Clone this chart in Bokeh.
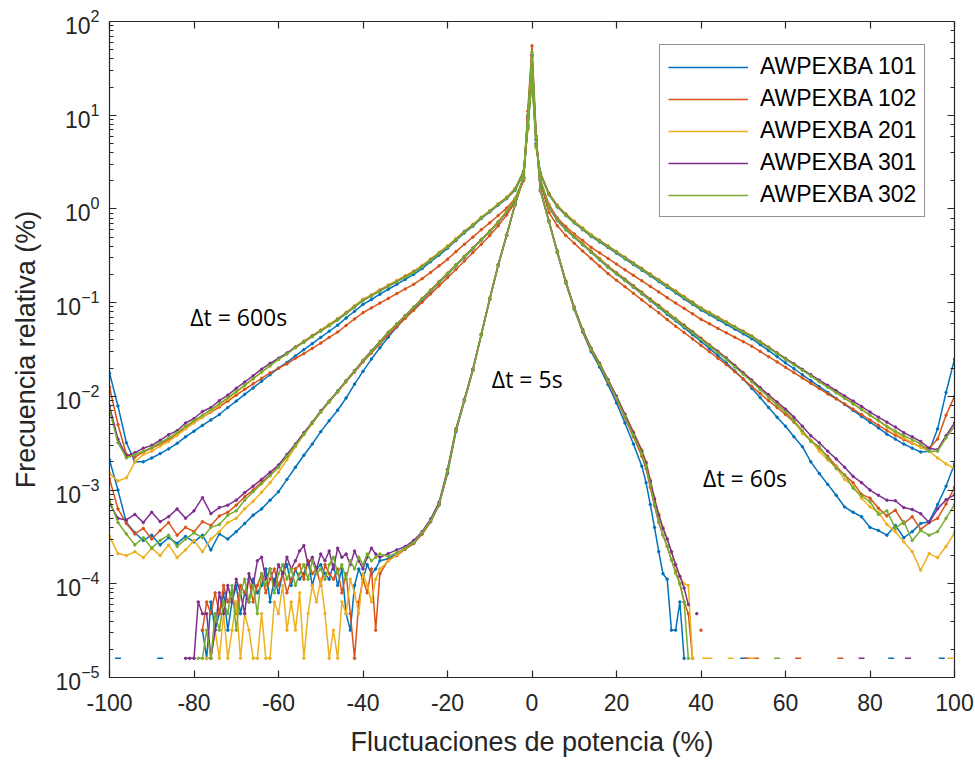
from bokeh.plotting import figure
from bokeh.models import (Range1d, LinearAxis, LogAxis, FixedTicker, Legend, LegendItem,
                          Label, CustomJSTickFormatter)
from bokeh.embed import file_html
from bokeh.resources import INLINE

nan = float("nan")

SERIES = ["AWPEXBA 101", "AWPEXBA 102", "AWPEXBA 201", "AWPEXBA 301", "AWPEXBA 302"]
COLORS = ["#0072BD", "#D95319", "#EDB120", "#7E2F8E", "#77AC30"]
XTICKS = [-100, -80, -60, -40, -20, 0, 20, 40, 60, 80, 100]

# bin centres (%)
X_WIDE = list(range(-100, -1, 2)) + [-1, 0, 1] + list(range(2, 101, 2))
X_5S = (list(range(-82, -35)) + list(range(-34, -1, 2)) + [-1, 0, 1]
        + list(range(2, 27, 2)) + list(range(27, 41)))

# ---------------- dt = 600 s ----------------
P600_101 = [1.78e-2, 7.9e-3, 3.2e-3, 2.0e-3, 2.0e-3, 2.2e-3, 2.45e-3, 2.75e-3, 3.15e-3, 3.7e-3,
            4.25e-3, 4.9e-3, 5.6e-3, 6.4e-3, 7.6e-3, 8.9e-3, 1.05e-2, 1.23e-2, 1.45e-2, 1.7e-2,
            2.0e-2, 2.3e-2, 2.7e-2, 3.15e-2, 3.65e-2, 4.25e-2, 4.95e-2, 5.75e-2, 6.85e-2, 8.1e-2,
            9.6e-2, 0.108, 0.123, 0.139, 0.157, 0.177, 0.2, 0.231, 0.273, 0.322,
            0.38, 0.46, 0.555, 0.655, 0.79, 0.93, 1.1, 1.29, 1.58, 2.4,
            7.2, 25, 4.6,
            2.35, 1.42, 1.05, 0.85, 0.71, 0.6, 0.51, 0.445, 0.387, 0.337,
            0.293, 0.255, 0.222, 0.193, 0.168, 0.146, 0.127, 0.11, 0.096, 0.0835,
            0.0745, 0.066, 0.0588, 0.0522, 0.0465, 0.0412, 0.0357, 0.0308, 0.0266, 0.0228,
            0.0197, 0.017, 0.0147, 0.0127, 0.011, 9.5e-3, 8.2e-3, 7.1e-3, 6.1e-3, 5.3e-3,
            4.6e-3, 3.95e-3, 3.5e-3, 3.1e-3, 2.8e-3, 2.55e-3, 2.6e-3, 4.5e-3, 1.1e-2, 2.5e-2]
P600_102 = [1.26e-2, 5.0e-3, 2.4e-3, 2.25e-3, 2.55e-3, 2.8e-3, 3.1e-3, 3.45e-3, 3.95e-3, 4.6e-3,
            5.3e-3, 6.0e-3, 6.8e-3, 7.7e-3, 8.9e-3, 1.03e-2, 1.19e-2, 1.36e-2, 1.56e-2, 1.78e-2,
            2.0e-2, 2.22e-2, 2.55e-2, 2.85e-2, 3.25e-2, 3.7e-2, 4.25e-2, 4.85e-2, 5.7e-2, 6.7e-2,
            7.8e-2, 8.8e-2, 9.9e-2, 0.111, 0.125, 0.14, 0.157, 0.18, 0.21, 0.247,
            0.29, 0.35, 0.42, 0.5, 0.6, 0.71, 0.85, 1.02, 1.3, 2.1,
            8.5, 30, 5.5,
            2.0, 1.12, 0.8, 0.65, 0.54, 0.46, 0.39, 0.34, 0.296, 0.258,
            0.224, 0.196, 0.171, 0.149, 0.13, 0.113, 0.099, 0.087, 0.076, 0.0665,
            0.0595, 0.0532, 0.0476, 0.0427, 0.0383, 0.0343, 0.0302, 0.0265, 0.0233, 0.0204,
            0.0179, 0.0157, 0.0138, 0.0121, 0.0106, 9.4e-3, 8.3e-3, 7.3e-3, 6.4e-3, 5.6e-3,
            4.9e-3, 4.3e-3, 3.85e-3, 3.45e-3, 3.15e-3, 2.9e-3, 2.8e-3, 3.5e-3, 6.3e-3, 1.0e-2]
P600_201 = [1.5e-3, 1.25e-3, 1.35e-3, 2.0e-3, 2.4e-3, 2.6e-3, 2.95e-3, 3.3e-3, 3.85e-3, 4.5e-3,
            5.2e-3, 6.0e-3, 6.9e-3, 8.0e-3, 9.4e-3, 1.1e-2, 1.3e-2, 1.53e-2, 1.8e-2, 2.12e-2,
            2.5e-2, 2.88e-2, 3.38e-2, 3.9e-2, 4.47e-2, 5.13e-2, 5.89e-2, 6.76e-2, 7.9e-2, 9.3e-2,
            0.109, 0.122, 0.138, 0.155, 0.173, 0.194, 0.218, 0.25, 0.294, 0.345,
            0.405, 0.485, 0.58, 0.685, 0.82, 0.96, 1.14, 1.34, 1.66, 2.55,
            7.0, 24, 4.4,
            2.45, 1.48, 1.1, 0.89, 0.74, 0.63, 0.535, 0.466, 0.405, 0.353,
            0.307, 0.268, 0.233, 0.203, 0.177, 0.154, 0.134, 0.117, 0.102, 0.0885,
            0.079, 0.0703, 0.0627, 0.0558, 0.0498, 0.0444, 0.0387, 0.0337, 0.0293, 0.0255,
            0.0222, 0.0193, 0.0168, 0.0146, 0.0128, 0.0111, 9.7e-3, 8.4e-3, 7.3e-3, 6.3e-3,
            5.5e-3, 4.7e-3, 4.1e-3, 3.6e-3, 3.2e-3, 2.85e-3, 2.6e-3, 2.2e-3, 1.9e-3, 1.7e-3]
P600_301 = [7.9e-3, 3.5e-3, 2.3e-3, 2.5e-3, 2.8e-3, 3.0e-3, 3.4e-3, 3.9e-3, 4.3e-3, 5.2e-3,
            5.8e-3, 6.9e-3, 7.6e-3, 9.0e-3, 1.03e-2, 1.22e-2, 1.42e-2, 1.66e-2, 1.95e-2, 2.25e-2,
            2.55e-2, 2.9e-2, 3.35e-2, 3.8e-2, 4.4e-2, 5.0e-2, 5.7e-2, 6.6e-2, 7.7e-2, 9.0e-2,
            0.106, 0.118, 0.134, 0.15, 0.168, 0.188, 0.212, 0.243, 0.285, 0.335,
            0.39, 0.47, 0.57, 0.67, 0.8, 0.94, 1.11, 1.31, 1.62, 2.5,
            7.5, 26, 4.8,
            2.4, 1.45, 1.07, 0.87, 0.72, 0.61, 0.52, 0.455, 0.395, 0.345,
            0.3, 0.262, 0.228, 0.199, 0.173, 0.151, 0.131, 0.114, 0.0995, 0.0865,
            0.0772, 0.0688, 0.0615, 0.0548, 0.049, 0.0436, 0.038, 0.0332, 0.029, 0.0252,
            0.0222, 0.0194, 0.017, 0.0149, 0.0131, 0.0115, 0.0101, 8.9e-3, 7.8e-3, 6.8e-3,
            6.0e-3, 5.3e-3, 4.7e-3, 4.1e-3, 3.7e-3, 3.3e-3, 2.8e-3, 2.7e-3, 3.8e-3, 5.2e-3]
P600_302 = [7.1e-3, 3.2e-3, 2.2e-3, 2.4e-3, 2.6e-3, 2.85e-3, 3.2e-3, 3.6e-3, 4.1e-3, 4.8e-3,
            5.5e-3, 6.3e-3, 7.2e-3, 8.3e-3, 9.7e-3, 1.13e-2, 1.32e-2, 1.55e-2, 1.82e-2, 2.12e-2,
            2.48e-2, 2.83e-2, 3.3e-2, 3.78e-2, 4.33e-2, 4.96e-2, 5.68e-2, 6.52e-2, 7.65e-2, 8.95e-2,
            0.105, 0.118, 0.133, 0.149, 0.167, 0.187, 0.21, 0.241, 0.283, 0.333,
            0.39, 0.47, 0.565, 0.665, 0.8, 0.94, 1.11, 1.3, 1.6, 2.45,
            7.3, 25, 4.6,
            2.36, 1.43, 1.06, 0.86, 0.715, 0.608, 0.518, 0.452, 0.393, 0.343,
            0.298, 0.26, 0.226, 0.197, 0.172, 0.15, 0.13, 0.113, 0.0985, 0.086,
            0.0768, 0.0683, 0.061, 0.0543, 0.0485, 0.0432, 0.0377, 0.0328, 0.0286, 0.0248,
            0.0217, 0.0189, 0.0165, 0.0143, 0.0125, 0.0109, 9.5e-3, 8.3e-3, 7.2e-3, 6.3e-3,
            5.5e-3, 4.8e-3, 4.25e-3, 3.8e-3, 3.45e-3, 3.1e-3, 2.6e-3, 2.6e-3, 3.6e-3, 4.8e-3]

# ---------------- dt = 60 s ----------------
P60_101 = [2.1e-3, 1.0e-3, 4.5e-4, 3.5e-4, 2.9e-4, 3.3e-4, 2.6e-4, 3.1e-4, 2.7e-4, 3.2e-4,
           2.8e-4, 3.3e-4, 2.3e-4, 3.4e-4, 3.0e-4, 3.6e-4, 4.4e-4, 5.4e-4, 6.3e-4, 7.8e-4,
           9.6e-4, 1.3e-3, 1.75e-3, 2.35e-3, 3.1e-3, 4.2e-3, 5.5e-3, 7.1e-3, 9.6e-3, 1.35e-2,
           1.85e-2, 2.5e-2, 3.3e-2, 4.3e-2, 5.5e-2, 6.9e-2, 8.6e-2, 0.107, 0.132, 0.163,
           0.2, 0.247, 0.305, 0.375, 0.465, 0.57, 0.72, 0.93, 1.25, 2.1,
           7.8, 30, 5.0,
           2.0, 1.04, 0.75, 0.6, 0.5, 0.415, 0.345, 0.286, 0.238, 0.202,
           0.172, 0.146, 0.124, 0.105, 0.089, 0.075, 0.064, 0.054, 0.0455, 0.0385,
           0.0325, 0.0272, 0.0227, 0.0186, 0.0153, 0.0122, 9.7e-3, 7.6e-3, 6.0e-3, 4.8e-3,
           3.7e-3, 2.9e-3, 2.0e-3, 1.5e-3, 1.15e-3, 8.8e-4, 6.6e-4, 5.8e-4, 5.2e-4, 4.0e-4,
           3.7e-4, 3.3e-4, 4.2e-4, 3.1e-4, 3.6e-4, 4.4e-4, 4.6e-4, 7.0e-4, 1.1e-3, 1.9e-3]
P60_102 = [1.32e-3, 6.3e-4, 4.4e-4, 3.4e-4, 3.9e-4, 3.0e-4, 3.7e-4, 4.5e-4, 3.3e-4, 4.0e-4,
           3.6e-4, 4.6e-4, 4.2e-4, 5.3e-4, 5.8e-4, 6.9e-4, 8.5e-4, 1.0e-3, 1.22e-3, 1.45e-3,
           1.8e-3, 2.3e-3, 3.0e-3, 3.95e-3, 5.2e-3, 6.8e-3, 8.7e-3, 1.11e-2, 1.43e-2, 1.82e-2,
           2.33e-2, 2.9e-2, 3.65e-2, 4.55e-2, 5.55e-2, 6.8e-2, 8.3e-2, 0.101, 0.124, 0.151,
           0.185, 0.226, 0.278, 0.342, 0.42, 0.52, 0.66, 0.86, 1.18, 2.0,
           9.0, 34, 5.6,
           1.9, 0.92, 0.66, 0.52, 0.43, 0.355, 0.295, 0.245, 0.204, 0.173,
           0.148, 0.126, 0.107, 0.091, 0.078, 0.066, 0.056, 0.048, 0.041, 0.035,
           0.03, 0.0255, 0.0218, 0.0183, 0.0153, 0.0128, 0.0107, 9.0e-3, 7.6e-3, 6.4e-3,
           5.3e-3, 4.2e-3, 3.4e-3, 2.8e-3, 2.3e-3, 1.8e-3, 1.45e-3, 1.2e-3, 9.0e-4, 8.2e-4,
           6.4e-4, 5.3e-4, 6.1e-4, 4.4e-4, 5.2e-4, 3.8e-4, 4.5e-4, 5.0e-4, 7.1e-4, 1.07e-3]
P60_201 = [3.2e-4, 2.1e-4, 2.0e-4, 2.2e-4, 1.9e-4, 2.4e-4, 2.0e-4, 2.6e-4, 1.9e-4, 2.3e-4,
           2.9e-4, 2.2e-4, 3.0e-4, 3.6e-4, 4.5e-4, 5.0e-4, 6.3e-4, 7.6e-4, 9.5e-4, 1.2e-3,
           1.55e-3, 2.1e-3, 2.9e-3, 3.9e-3, 5.1e-3, 6.8e-3, 8.8e-3, 1.13e-2, 1.46e-2, 1.88e-2,
           2.42e-2, 3.05e-2, 3.85e-2, 4.85e-2, 5.95e-2, 7.3e-2, 9.0e-2, 0.111, 0.137, 0.168,
           0.207, 0.255, 0.314, 0.386, 0.475, 0.585, 0.735, 0.95, 1.28, 2.15,
           7.6, 29, 4.8,
           2.1, 1.08, 0.78, 0.62, 0.515, 0.43, 0.357, 0.297, 0.247, 0.21,
           0.179, 0.152, 0.13, 0.11, 0.094, 0.08, 0.068, 0.058, 0.0493, 0.042,
           0.0358, 0.0304, 0.0258, 0.0215, 0.0179, 0.0149, 0.0123, 0.0102, 8.5e-3, 7.0e-3,
           5.5e-3, 4.0e-3, 3.4e-3, 2.6e-3, 2.1e-3, 1.75e-3, 1.3e-3, 1.1e-3, 8.2e-4, 6.6e-4,
           5.8e-4, 4.3e-4, 3.6e-4, 2.8e-4, 2.2e-4, 1.4e-4, 2.1e-4, 1.9e-4, 2.5e-4, 3.5e-4]
P60_301 = [7.2e-4, 5.0e-4, 4.8e-4, 5.5e-4, 4.5e-4, 5.8e-4, 4.6e-4, 5.2e-4, 6.3e-4, 5.0e-4,
           6.0e-4, 8.3e-4, 5.6e-4, 6.5e-4, 6.9e-4, 7.8e-4, 9.4e-4, 1.1e-3, 1.3e-3, 1.55e-3,
           1.85e-3, 2.4e-3, 3.1e-3, 4.1e-3, 5.3e-3, 7.0e-3, 8.9e-3, 1.14e-2, 1.47e-2, 1.88e-2,
           2.42e-2, 3.04e-2, 3.82e-2, 4.8e-2, 5.9e-2, 7.25e-2, 8.9e-2, 0.11, 0.135, 0.166,
           0.204, 0.251, 0.309, 0.38, 0.468, 0.575, 0.72, 0.93, 1.25, 2.1,
           8.0, 30, 5.0,
           2.0, 1.06, 0.77, 0.61, 0.505, 0.42, 0.35, 0.29, 0.242, 0.206,
           0.176, 0.15, 0.127, 0.108, 0.092, 0.078, 0.0665, 0.057, 0.0485, 0.0412,
           0.035, 0.03, 0.0255, 0.0213, 0.0178, 0.0149, 0.0124, 0.0104, 8.7e-3, 7.3e-3,
           6.0e-3, 4.8e-3, 3.8e-3, 3.2e-3, 2.6e-3, 2.15e-3, 1.75e-3, 1.4e-3, 1.2e-3, 1.0e-3,
           8.8e-4, 7.8e-4, 7.7e-4, 6.5e-4, 6.2e-4, 5.6e-4, 4.5e-4, 6.3e-4, 7.9e-4, 8.9e-4]
P60_302 = [7.9e-4, 4.5e-4, 3.4e-4, 2.6e-4, 3.1e-4, 2.4e-4, 2.9e-4, 3.3e-4, 2.5e-4, 3.0e-4,
           3.5e-4, 3.1e-4, 4.0e-4, 4.3e-4, 5.4e-4, 6.0e-4, 7.8e-4, 9.6e-4, 1.17e-3, 1.42e-3,
           1.75e-3, 2.3e-3, 3.0e-3, 3.95e-3, 5.2e-3, 6.8e-3, 8.8e-3, 1.13e-2, 1.46e-2, 1.87e-2,
           2.4e-2, 3.0e-2, 3.8e-2, 4.8e-2, 5.9e-2, 7.2e-2, 8.9e-2, 0.11, 0.135, 0.166,
           0.204, 0.25, 0.31, 0.38, 0.47, 0.575, 0.725, 0.935, 1.26, 2.1,
           7.8, 31, 4.9,
           2.05, 1.05, 0.76, 0.6, 0.5, 0.416, 0.346, 0.287, 0.239, 0.203,
           0.173, 0.147, 0.125, 0.106, 0.09, 0.077, 0.0655, 0.0558, 0.0475, 0.0404,
           0.0344, 0.0292, 0.0248, 0.0206, 0.0172, 0.0143, 0.0118, 9.8e-3, 8.1e-3, 6.8e-3,
           5.5e-3, 4.3e-3, 3.3e-3, 2.9e-3, 2.2e-3, 1.7e-3, 1.45e-3, 1.05e-3, 8.7e-4, 7.5e-4,
           5.5e-4, 6.0e-4, 3.9e-4, 4.6e-4, 2.9e-4, 3.7e-4, 3.3e-4, 3.6e-4, 5.0e-4, 7.0e-4]

# ---------------- dt = 5 s ----------------
P5_101 = [nan, nan, nan, nan, 3.2e-5, 1.6e-5, 6.4e-5, 3.2e-5, 4.8e-5, 8.0e-5,
          3.2e-5, 6.4e-5, 9.6e-5, 4.8e-5, 8.0e-5, 6.4e-5, 1.12e-4, 8.0e-5, 9.6e-5, 1.44e-4,
          6.4e-5, 1.12e-4, 8.0e-5, 1.28e-4, 1.6e-4, 9.6e-5, 1.44e-4, 1.12e-4, 1.28e-4, 1.76e-4,
          9.6e-5, 1.44e-4, 1.6e-4, 1.28e-4, 1.12e-4, 1.6e-4, 9.6e-5, 1.44e-4, 4.8e-5, 3.2e-5,
          9.6e-5, 1.44e-4, 1.12e-4, 1.6e-4, 1.28e-4, 1.44e-4, 1.76e-4,
          1.85e-4, 2.1e-4, 2.35e-4, 2.7e-4, 3.4e-4, 4.6e-4, 6.9e-4, 1.5e-3, 4.2e-3, 8.9e-3,
          1.88e-2, 4.5e-2, 0.108, 0.248, 0.52, 1.11, 2.18,
          10, 42, 5.4,
          1.56, 0.73, 0.34, 0.162, 8.5e-2, 4.85e-2, 3.0e-2, 2.05e-2, 1.33e-2, 8.5e-3, 5.2e-3, 3.1e-3, 1.8e-3,
          1.2e-3, 7.0e-4, 4.0e-4, 2.2e-4, 1.28e-4, 1.12e-4, 3.2e-5, 3.2e-5, 6.4e-5, 1.6e-5, nan, nan, nan, nan]
P5_102 = [nan, nan, 1.6e-5, nan, 3.2e-5, 6.4e-5, 4.8e-5, 8.0e-5, 4.8e-5, 9.6e-5,
          6.4e-5, 8.0e-5, 4.8e-5, 9.6e-5, 8.0e-5, 1.12e-4, 6.4e-5, 9.6e-5, 1.28e-4, 8.0e-5,
          1.12e-4, 1.44e-4, 9.6e-5, 1.28e-4, 8.0e-5, 1.12e-4, 1.44e-4, 1.6e-4, 1.12e-4, 1.76e-4,
          1.28e-4, 1.44e-4, 9.6e-5, 1.6e-4, 1.28e-4, 1.12e-4, 1.44e-4, 8.0e-5, 1.28e-4, 4.8e-5,
          1.6e-5, 6.4e-5, 1.12e-4, 8.0e-5, 1.44e-4, 3.2e-5, 1.28e-4,
          1.8e-4, 2.0e-4, 2.35e-4, 2.7e-4, 3.4e-4, 4.6e-4, 7.0e-4, 1.55e-3, 4.3e-3, 9.0e-3,
          1.9e-2, 4.55e-2, 0.109, 0.25, 0.52, 1.11, 2.17,
          11, 55, 6.0,
          1.55, 0.73, 0.343, 0.164, 8.6e-2, 4.95e-2, 3.12e-2, 2.16e-2, 1.43e-2, 9.4e-3, 5.9e-3, 3.7e-3, 2.3e-3,
          1.7e-3, 1.06e-3, 6.8e-4, 4.5e-4, 3.3e-4, 2.5e-4, 1.8e-4, 1.35e-4, 1.0e-4, 6.4e-5, 4.8e-5, 1.6e-5, nan, 3.2e-5]
P5_201 = [nan, nan, nan, nan, nan, 1.6e-5, 1.6e-5, 3.2e-5, 1.6e-5, 4.8e-5,
          1.6e-5, 3.2e-5, 6.4e-5, 1.6e-5, 4.8e-5, 3.2e-5, 1.6e-5, 1.6e-5, 4.8e-5, 1.6e-5,
          1.6e-5, 6.4e-5, 4.8e-5, 9.6e-5, 3.2e-5, 6.4e-5, 3.2e-5, 8.0e-5, 1.6e-5, 4.8e-5,
          9.6e-5, 6.4e-5, 1.12e-4, 4.8e-5, 1.6e-5, 3.2e-5, 1.6e-5, 6.4e-5, 4.8e-5, 1.12e-4,
          8.0e-5, 4.8e-5, 1.28e-4, 9.6e-5, 6.4e-5, 1.12e-4, 1.44e-4,
          1.75e-4, 2.05e-4, 2.4e-4, 2.8e-4, 3.55e-4, 4.8e-4, 7.3e-4, 1.65e-3, 4.5e-3, 9.3e-3,
          1.95e-2, 4.65e-2, 0.112, 0.255, 0.53, 1.13, 2.22,
          9.8, 43, 5.6,
          1.6, 0.75, 0.355, 0.17, 9.0e-2, 5.2e-2, 3.3e-2, 2.28e-2, 1.52e-2, 1.01e-2, 6.5e-3, 4.2e-3, 2.7e-3,
          2.0e-3, 1.3e-3, 8.3e-4, 5.6e-4, 4.0e-4, 3.0e-4, 2.2e-4, 1.6e-4, 1.2e-4, 1.0e-4, 9.6e-5, 1.6e-5, nan, nan]
P5_301 = [1.6e-5, 1.6e-5, 1.6e-5, 6.4e-5, 4.8e-5, 4.8e-5, 1.6e-5, 3.2e-5, 8.0e-5, 4.8e-5,
          9.6e-5, 6.4e-5, 1.12e-4, 8.0e-5, 4.8e-5, 1.28e-4, 9.6e-5, 1.76e-4, 1.92e-4, 1.12e-4,
          1.44e-4, 9.6e-5, 1.6e-4, 1.28e-4, 1.92e-4, 1.44e-4, 1.76e-4, 2.24e-4, 2.56e-4, 1.6e-4,
          1.92e-4, 1.44e-4, 2.08e-4, 1.76e-4, 2.24e-4, 1.44e-4, 2.4e-4, 1.92e-4, 2.08e-4, 1.6e-4,
          2.24e-4, 1.76e-4, 1.44e-4, 1.92e-4, 2.4e-4, 2.08e-4, 1.92e-4,
          2.1e-4, 2.3e-4, 2.5e-4, 2.9e-4, 3.6e-4, 4.9e-4, 7.4e-4, 1.65e-3, 4.5e-3, 9.3e-3,
          1.95e-2, 4.6e-2, 0.111, 0.253, 0.53, 1.13, 2.2,
          9.5, 44, 5.5,
          1.6, 0.75, 0.352, 0.169, 8.9e-2, 5.12e-2, 3.24e-2, 2.25e-2, 1.5e-2, 1.0e-2, 6.4e-3, 4.1e-3, 2.6e-3,
          1.95e-3, 1.25e-3, 8.0e-4, 5.4e-4, 3.9e-4, 3.0e-4, 2.2e-4, 1.6e-4, 1.2e-4, 9.0e-5, 6.0e-5, nan, 4.8e-5, nan]
P5_302 = [nan, nan, nan, 1.6e-5, 1.6e-5, 3.2e-5, 1.6e-5, 4.8e-5, 3.2e-5, 6.4e-5,
          4.8e-5, 9.6e-5, 3.2e-5, 8.0e-5, 1.12e-4, 6.4e-5, 9.6e-5, 4.8e-5, 1.28e-4, 9.6e-5,
          1.44e-4, 8.0e-5, 1.28e-4, 1.6e-4, 1.12e-4, 1.44e-4, 9.6e-5, 1.28e-4, 1.6e-4, 1.12e-4,
          1.76e-4, 1.28e-4, 1.44e-4, 1.12e-4, 1.6e-4, 1.92e-4, 1.28e-4, 1.6e-4, 1.12e-4, 1.76e-4,
          1.44e-4, 1.92e-4, 1.6e-4, 2.08e-4, 1.76e-4, 1.92e-4, 2.08e-4,
          1.95e-4, 2.15e-4, 2.4e-4, 2.75e-4, 3.5e-4, 4.7e-4, 7.1e-4, 1.6e-3, 4.4e-3, 9.1e-3,
          1.9e-2, 4.57e-2, 0.11, 0.25, 0.525, 1.12, 2.2,
          10, 47, 5.6,
          1.58, 0.74, 0.347, 0.166, 8.7e-2, 5.0e-2, 3.16e-2, 2.19e-2, 1.46e-2, 9.6e-3, 6.1e-3, 3.85e-3, 2.45e-3,
          1.8e-3, 1.12e-3, 7.0e-4, 4.6e-4, 3.3e-4, 2.5e-4, 1.8e-4, 1.3e-4, 1.0e-4, 6.4e-5, 1.6e-5, nan, nan, nan]

# isolated single-count bins of the 5 s histograms
F5X_101 = [-98, -88, 50, 85, 97]
F5Y_101 = [1.6e-5, 1.6e-5, 1.6e-5, 1.6e-5, 1.6e-5]
F5X_102 = [51, 53, 63, 73]
F5Y_102 = [1.6e-5, 1.6e-5, 1.6e-5, 1.6e-5]
F5X_201 = [41, 42, 47, 52, 99]
F5Y_201 = [1.6e-5, 1.6e-5, 1.6e-5, 1.6e-5, 1.6e-5]
F5X_301 = [78, 89]
F5Y_301 = [1.6e-5, 1.6e-5]
F5X_302 = [58]
F5Y_302 = [1.6e-5]

DATA = [
    (P600_101, P60_101, P5_101, F5X_101, F5Y_101),
    (P600_102, P60_102, P5_102, F5X_102, F5Y_102),
    (P600_201, P60_201, P5_201, F5X_201, F5Y_201),
    (P600_301, P60_301, P5_301, F5X_301, F5Y_301),
    (P600_302, P60_302, P5_302, F5X_302, F5Y_302),
]

AX = "#262626"
FONT = "Liberation Sans"

p = figure(width=975, height=760, x_range=Range1d(-100, 100), y_range=Range1d(1e-5, 1e2),
           y_axis_type="log", output_backend="svg", toolbar_location=None,
           min_border_left=109, min_border_right=21, min_border_top=21, min_border_bottom=83,
           background_fill_color="white", border_fill_color="white")
p.outline_line_color = None
p.grid.visible = False

xa = p.xaxis[0]
ya = p.yaxis[0]
xa.ticker = FixedTicker(ticks=XTICKS)
xa.formatter = CustomJSTickFormatter(code="return String(tick);")
xa.axis_label = "Fluctuaciones de potencia (%)"
ya.axis_label = "Frecuencia relativa (%)"
for ax in (xa, ya):
    ax.axis_line_color = AX
    ax.axis_line_width = 1.2
    ax.major_tick_line_color = AX
    ax.major_tick_line_width = 1.2
    ax.minor_tick_line_color = AX
    ax.major_tick_in = 7
    ax.major_tick_out = 0
    ax.minor_tick_in = 4
    ax.minor_tick_out = 0
    ax.major_label_text_font = FONT
    ax.major_label_text_font_size = "23px"
    ax.major_label_text_color = AX
    ax.axis_label_text_font = FONT
    ax.axis_label_text_font_size = "27px"
    ax.axis_label_text_font_style = "normal"
    ax.axis_label_text_color = AX
xa.minor_tick_line_color = None
xa.major_label_standoff = 16
ya.major_label_standoff = 10
xa.axis_label_standoff = 13
ya.axis_label_standoff = 12

top = LinearAxis(ticker=FixedTicker(ticks=XTICKS), formatter=CustomJSTickFormatter(code="return '';"),
                 major_label_text_font_size="2px", major_label_standoff=0,
                 major_tick_in=7, major_tick_out=0,
                 minor_tick_line_color=None, axis_line_color=AX, axis_line_width=1.2,
                 major_tick_line_color=AX, major_tick_line_width=1.2)
p.add_layout(top, "above")
right = LogAxis(formatter=CustomJSTickFormatter(code="return '';"),
                major_label_text_font_size="2px", major_label_standoff=0,
                major_tick_in=7, major_tick_out=0, minor_tick_in=4, minor_tick_out=0,
                axis_line_color=AX, axis_line_width=1.2, major_tick_line_color=AX,
                major_tick_line_width=1.2, minor_tick_line_color=AX)
p.add_layout(right, "right")

items = []
for name, color, (y600, y60, y5, fx, fy) in zip(SERIES, COLORS, DATA):
    rl = p.line(X_WIDE, y600, line_color=color, line_width=1.5)
    p.scatter(X_WIDE, y600, marker="circle", size=2.5, color=color)
    p.line(X_WIDE, y60, line_color=color, line_width=1.5)
    p.scatter(X_WIDE, y60, marker="circle", size=2.5, color=color)
    p.line(X_5S, y5, line_color=color, line_width=1.5)
    p.scatter(X_5S, y5, marker="circle", size=2.5, color=color)
    p.scatter(fx, fy, marker="dash", size=6, line_width=1.5, color=color)
    items.append(LegendItem(label=name, renderers=[rl]))

legend = Legend(items=items, location=(550, 460), orientation="vertical",
                label_text_font=FONT, label_text_font_size="23px", label_text_color="#000000",
                glyph_width=80, glyph_height=24, label_height=24, label_standoff=12,
                spacing=5, padding=8, margin=0,
                border_line_color=AX, border_line_width=1.2,
                background_fill_color="white", background_fill_alpha=1.0)
p.add_layout(legend, "center")

for txt, xx, yy in [("Δt = 600s", -80.9, 0.071), ("Δt = 5s", -9.5, 0.0155), ("Δt = 60s", 40.5, 1.36e-3)]:
    p.add_layout(Label(x=xx, y=yy, text=txt, text_font="Open Sans", text_font_size="23px",
                       text_color="#000000", text_baseline="middle", text_align="left"))

open("out.html", "w").write(file_html(p, INLINE))
